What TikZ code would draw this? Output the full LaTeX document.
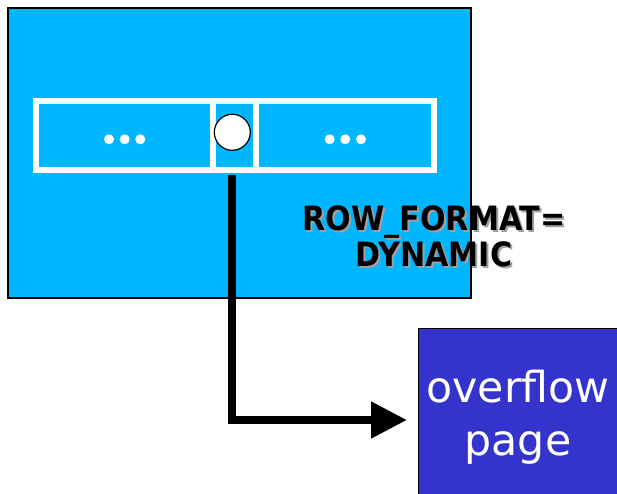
\documentclass[tikz,border=0pt]{standalone}
\usepackage{fontspec}
\setmainfont{DejaVu Sans}
\newfontfamily\condfont{DejaVu Sans Condensed}
\usetikzlibrary{arrows.meta}
\definecolor{pagecyan}{RGB}{0,182,255}
\definecolor{ovfblue}{RGB}{52,52,204}
\definecolor{shadowgray}{RGB}{160,160,160}
% text with a grey drop shadow, set in the same box
\newcommand\shadowed[1]{\makebox[0pt][l]{\hspace{2pt}\raisebox{-2pt}{\textcolor{shadowgray}{#1}}}#1}
\begin{document}
\begin{tikzpicture}[x=1pt,y=-1pt,
  every node/.style={inner sep=0pt,outer sep=0pt},
  pagebox/.style={draw=black,line width=1.5pt,fill=pagecyan,rectangle},
  cellbox/.style={draw=white,line width=6pt,rectangle},
  ptrdot/.style={circle,draw=black,line width=1.2pt,fill=white,minimum size=36pt},
  fmtlabel/.style={font=\condfont\bfseries\fontsize{33.5}{34.4}\selectfont,text=black,
    align=center,anchor=base},
  ovfbox/.style={draw=black,line width=1pt,fill=ovfblue,rectangle,text=white,
    align=center,font=\fontsize{42.7}{53}\selectfont,text depth=14pt},
  link/.style={draw=black,line width=8pt,line join=miter,
    -{Triangle[length=36pt,width=35pt]}}]
\useasboundingbox (0,0) rectangle (617,494);
\clip (0,0) rectangle (617,494);

% data page
\node[pagebox,minimum width=463pt,minimum height=290pt,anchor=north west] (page) at (8,8) {};

% record with its fields
\node[cellbox,minimum width=177pt,minimum height=69pt] (cellL) at (124.5,135.5) {};
\node[cellbox,minimum width=43pt,minimum height=69pt] (cellM) at (234.5,135.5) {};
\node[cellbox,minimum width=178pt,minimum height=69pt] (cellR) at (345,135.5) {};

% elided columns
\foreach \x in {109,124.7,140.3,329.7,345.3,361}
  \fill[white] (\x,139.3) circle[radius=5pt];

% off-page pointer
\node[ptrdot] (ptr) at (232.3,132.3) {};

% row format label (base anchor sits on the last line)
\node[fmtlabel] (fmt) at (434,266.7) {\shadowed{ROW\_FORMAT=}\\\shadowed{DYNAMIC}};

% overflow page
\node[ovfbox,minimum width=200pt,minimum height=184pt] (ovf) at (518,420) {overflow\\page};

% pointer to the overflow page
\draw[link,shorten >=11pt] ([yshift=-5pt]cellM.south -| ptr.center) |- (ovf.west);
\end{tikzpicture}
\end{document}
